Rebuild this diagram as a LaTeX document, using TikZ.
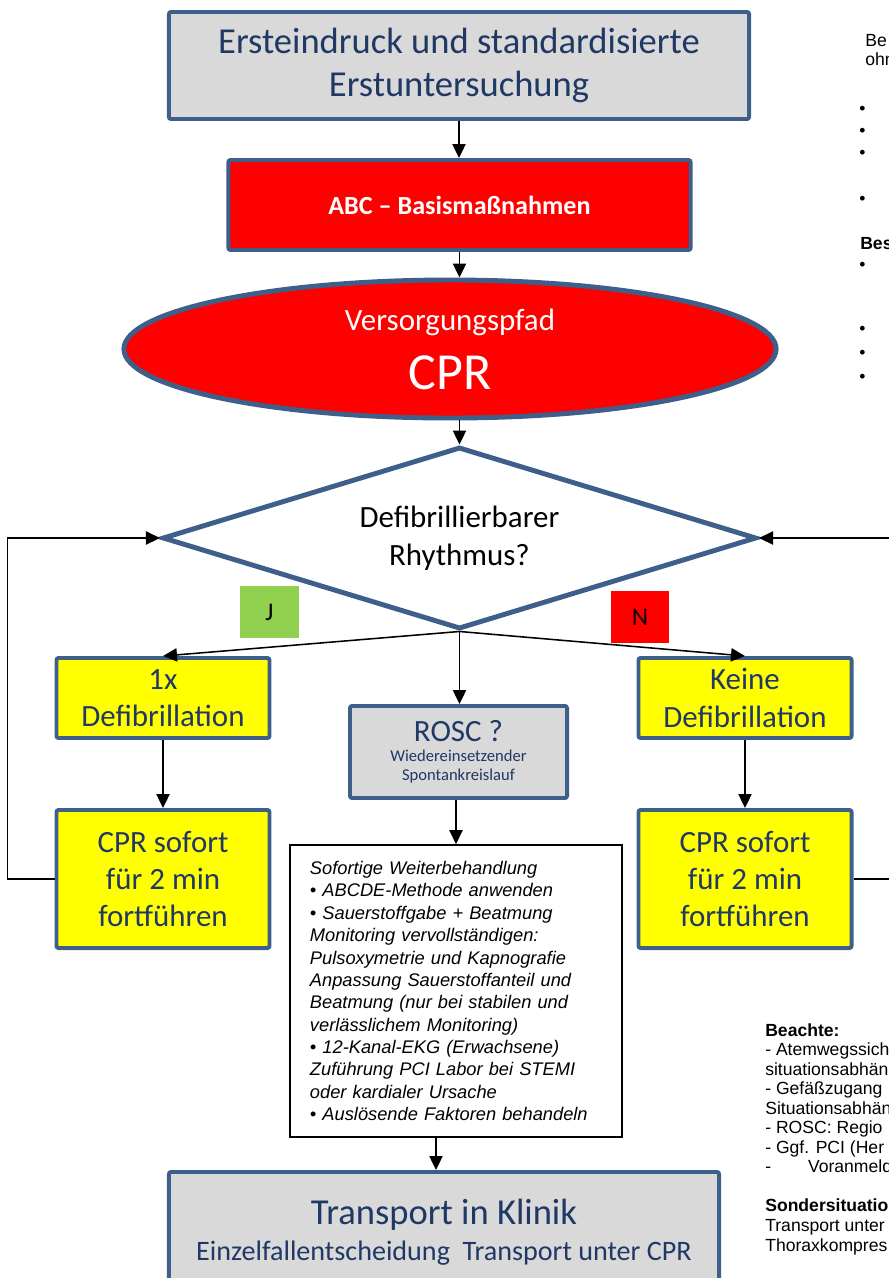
\documentclass[tikz,border=0pt]{standalone}
\usepackage{fontspec}
\setmainfont{Carlito}
\newfontfamily\arialfont{Liberation Sans}
\usetikzlibrary{arrows.meta,positioning,shapes.geometric}
\definecolor{pathblue}{HTML}{3D5F8A}
\definecolor{pathtext}{HTML}{1F3864}
\definecolor{pathgray}{HTML}{D9D9D9}
\definecolor{pathred}{HTML}{FF0000}
\definecolor{pathyellow}{HTML}{FFFF00}
\definecolor{pathgreen}{HTML}{92D050}

\tikzset{
  flowbox/.style={draw=pathblue, line width=2.8pt, rounded corners=1.5pt, text=pathtext, align=center, inner sep=0pt},
  graybox/.style={flowbox, fill=pathgray},
  yellowbox/.style={flowbox, fill=pathyellow, minimum width=5.325cm, font=\fontsize{22}{26.6}\selectfont},
  arr/.style={-{Triangle[length=0.35cm,width=0.33cm]}, line width=1.1pt},
  tag/.style={minimum width=1.45cm, minimum height=1.3cm, inner sep=0pt, font=\fontsize{18}{20}\selectfont},
  note/.style={font=\arialfont\fontsize{12.5}{13.9}\selectfont, anchor=base west, inner sep=0pt},
}

\begin{document}
\begin{tikzpicture}[x=0.025cm,y=-0.025cm]
  \useasboundingbox (0,0) rectangle (889,1278);
  \clip (0,0) rectangle (889,1278);
  % main path
  \node[graybox, minimum width=14.5cm, minimum height=2.675cm, font=\fontsize{26}{31.2}\selectfont] (start) at (459,65.5) {Ersteindruck und standardisierte\\Erstuntersuchung};
  \node[flowbox, fill=pathred, text=white, minimum width=11.55cm, minimum height=2.25cm, font=\bfseries\fontsize{18.6}{21}\selectfont] (abc) at (459.5,205) {ABC – Basismaßnahmen};
  \node[ellipse, draw=pathblue, line width=3.5pt, fill=pathred, text=white, minimum width=16.3cm, minimum height=3.45cm, inner sep=0pt, align=center, font=\fontsize{22}{42}\selectfont] (cpr) at (450,349) {Versorgungspfad\\{\fontsize{37}{42}\selectfont CPR}};
  \node[diamond, shape aspect=3.25, draw=pathblue, line width=3.5pt, fill=white, minimum width=14.85cm, minimum height=4.55cm, inner sep=0pt, align=center, font=\fontsize{22}{27}\selectfont] (rhythm) at (459.5,538) {Defibrillierbarer\\Rhythmus?};
  \node[tag, fill=pathgreen] (yes) at (269.5,612) {J};
  \node[tag, fill=pathred] (no) at (640,617) {N};
  % both branches
  \node[yellowbox, minimum height=2.0cm] (defi) at (163,698) {1x\\Defibrillation};
  \node[yellowbox, minimum height=3.45cm] (cprleft) at (163,879) {CPR sofort\\für 2 min\\fortführen};
  \node[yellowbox, minimum height=2.0cm] (nodefi) at (745,698) {Keine\\Defibrillation};
  \node[yellowbox, minimum height=3.45cm] (cprright) at (745,879) {CPR sofort\\für 2 min\\fortführen};
  % ROSC
  \node[graybox, minimum width=5.425cm, minimum height=2.3cm, font=\fontsize{11.8}{14}\selectfont] (rosc) at (458.5,752) {{\fontsize{22}{24}\selectfont ROSC ?}\\Wiedereinsetzender\\Spontankreislauf};
  \node[draw, line width=1.1pt, fill=white, minimum width=8.3cm, minimum height=7.3cm, text width=7.3cm, inner xsep=0.5cm, align=left, font=\arialfont\itshape\fontsize{13}{15.9}\selectfont] (info) at (456,991) {Sofortige Weiterbehandlung\\
    • ABCDE-Methode anwenden\\
    • Sauerstoffgabe + Beatmung\\
    Monitoring vervollständigen:\\
    Pulsoxymetrie und Kapnografie\\
    Anpassung Sauerstoffanteil und\\
    Beatmung (nur bei stabilen und\\
    verlässlichem Monitoring)\\
    • 12-Kanal-EKG (Erwachsene)\\
    Zuführung PCI Labor bei STEMI\\
    oder kardialer Ursache\\
    • Auslösende Faktoren behandeln};
  \node[graybox, minimum width=13.75cm, minimum height=3.0cm, font=\fontsize{20}{26}\selectfont] (trans) at (444,1232) {{\fontsize{26}{26}\selectfont Transport in Klinik}\\Einzelfallentscheidung\ \ Transport unter CPR};
  % connectors
  \draw[arr] (start.south) -- (start.south |- abc.north);
  \draw[arr] (abc.south) -- (abc.south |- cpr.north);
  \draw[arr] (rhythm.north |- cpr.south) -- (rhythm.north);
  \draw[arr] (rhythm.south) -- (defi.north);
  \draw[arr] (rhythm.south) -- (rhythm.south |- rosc.north);
  \draw[arr] (rhythm.south) -- (nodefi.north);
  \draw[arr] (defi.south) -- (cprleft.north);
  \draw[arr] (nodefi.south) -- (cprright.north);
  \draw[arr] (rosc.south -| info.north) -- (info.north);
  \draw[arr] ([xshift=-0.5cm]info.south) -- ([xshift=-0.5cm]info.south |- trans.north);
  \draw[arr] (cprleft.west) -- ++(-47,0) |- (rhythm.west);
  \draw[arr] (cprright.east) -- ++(60,0) |- (rhythm.east);
  % notes on the right
  \node[note] (introa) at (865,46) {Be};
  \node[note] (introb) at (865,65) {ohn};
  \foreach \y in {110,132,154,200,266,330,354,378}
    \node[note] at (859,\y+4) {•};
  \node[note, font=\arialfont\bfseries\fontsize{12.5}{13.9}\selectfont] (bes) at (860,249) {Bes};
  \node[note, anchor=north west, align=left] (beachte) at (765,1023) {\textbf{Beachte:}\\
    - Atemwegssich\\
    situationsabhän\\
    - Gefäßzugang\\
    Situationsabhän\\
    - ROSC: Regio\\
    - Ggf. PCI (Her\\
    -\hspace{2.1em}Voranmeld\\[13.9pt]
    \textbf{Sondersituatio}\\
    Transport unter\\
    Thoraxkompres};
\end{tikzpicture}
\end{document}
